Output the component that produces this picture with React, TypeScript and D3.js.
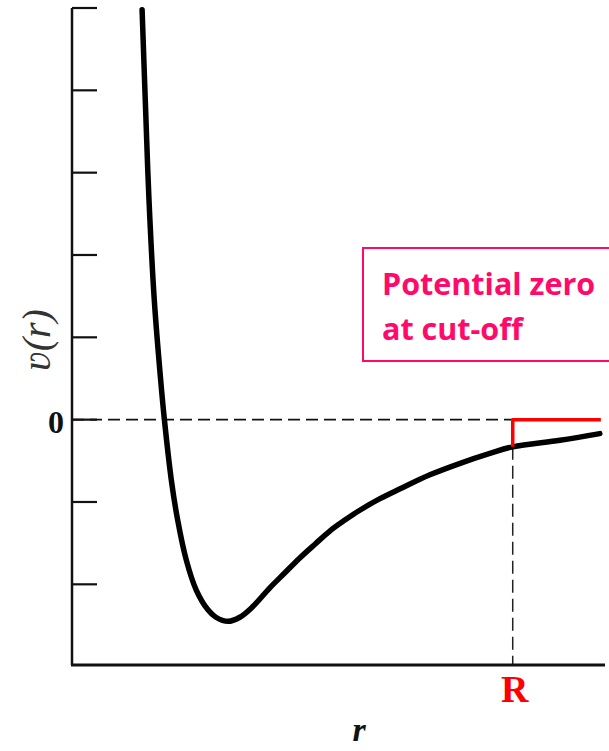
import React, { useEffect, useRef } from 'react';
import * as d3 from 'd3';

// potential curve
const curveR = [1.32, 1.38, 1.45, 1.55, 1.67, 1.74, 1.87, 1.99, 2.15, 2.34, 2.56, 2.71, 2.94, 3.16, 3.39, 3.73, 4.01, 4.29, 4.58, 4.86, 5.14, 5.42, 5.8, 6.18, 6.74, 7.31, 7.87, 8.3, 9.19, 9.94];
const curveV = [4.98, 3.88, 2.67, 1.45, 0.48, 0, -0.73, -1.22, -1.7, -2.07, -2.31, -2.4, -2.45, -2.4, -2.28, -2.04, -1.86, -1.68, -1.51, -1.35, -1.22, -1.1, -0.96, -0.84, -0.67, -0.53, -0.41, -0.33, -0.25, -0.17];

const yTicks = [-2, -1, 0, 1, 2, 3, 4, 5];
const xDomain = [0, 10];
const yDomain = [-2.98, 5];

const cutoffR = 8.3;
const cutoffV = -0.33;
const shiftedEndR = 9.96;

const boxLines = ['Potential zero', 'at cut-off'];

const W = 609;
const H = 751;

const App = () => {
  const ref = useRef<SVGSVGElement>(null);

  useEffect(() => {
    if (!ref.current) return;
    const svg = d3.select(ref.current);
    svg.selectAll('*').remove();

    const x = d3.scaleLinear().domain(xDomain).range([72, 603]);
    const y = d3.scaleLinear().domain(yDomain).range([665, 8]);

    svg.append('rect').attr('width', W).attr('height', H).attr('fill', '#fff');

    // dashed zero line and cut-off line
    svg.append('line')
      .attr('x1', x(0)).attr('x2', x(cutoffR))
      .attr('y1', y(0)).attr('y2', y(0))
      .attr('stroke', '#111').attr('stroke-width', 1.8)
      .attr('stroke-dasharray', '12,6');
    svg.append('line')
      .attr('x1', x(cutoffR)).attr('x2', x(cutoffR))
      .attr('y1', y(cutoffV)).attr('y2', y(yDomain[0]))
      .attr('stroke', '#222').attr('stroke-width', 1.5)
      .attr('stroke-dasharray', '13,6');

    // axes
    svg.append('line')
      .attr('x1', x(0)).attr('x2', x(0))
      .attr('y1', y(yDomain[1])).attr('y2', y(yDomain[0]))
      .attr('stroke', '#111').attr('stroke-width', 2.5);
    svg.append('line')
      .attr('x1', x(0) - 1).attr('x2', x(10) + 2)
      .attr('y1', y(yDomain[0])).attr('y2', y(yDomain[0]))
      .attr('stroke', '#111').attr('stroke-width', 3);
    svg.append('g')
      .selectAll('line')
      .data(yTicks)
      .enter()
      .append('line')
        .attr('x1', x(0)).attr('x2', x(0) + 25)
        .attr('y1', d => y(d)).attr('y2', d => y(d))
        .attr('stroke', '#111').attr('stroke-width', 2.2);

    // potential
    const pts = curveR.map((r, i) => [r, curveV[i]] as [number, number]);
    const line = d3.line<[number, number]>()
      .x(d => x(d[0]))
      .y(d => y(d[1]))
      .curve(d3.curveCatmullRom.alpha(0.5));
    svg.append('path')
      .attr('d', line(pts))
      .attr('fill', 'none')
      .attr('stroke', '#000')
      .attr('stroke-width', 5.5)
      .attr('stroke-linecap', 'round');

    // shifted potential in red
    const step: [number, number][] = [[cutoffR, cutoffV], [cutoffR, 0], [shiftedEndR, 0]];
    svg.append('path')
      .attr('d', d3.line<[number, number]>().x(d => x(d[0])).y(d => y(d[1]))(step))
      .attr('fill', 'none')
      .attr('stroke', '#ff0000')
      .attr('stroke-width', 3.5)
      .attr('stroke-linejoin', 'round');

    // labels
    svg.append('text')
      .attr('x', 64).attr('y', y(0) + 13)
      .attr('text-anchor', 'end')
      .style('font', 'bold 32px "Liberation Serif", serif')
      .attr('fill', '#111')
      .text('0');
    svg.append('text')
      .attr('x', x(cutoffR) + 2).attr('y', 702)
      .attr('text-anchor', 'middle')
      .style('font', 'bold 38px "Liberation Serif", serif')
      .attr('fill', '#ff0000')
      .text('R');
    svg.append('text')
      .attr('x', 359).attr('y', 741)
      .attr('text-anchor', 'middle')
      .style('font', 'italic bold 34px "Liberation Serif", serif')
      .attr('fill', '#111')
      .text('r');
    svg.append('text')
      .attr('transform', 'translate(50, 340) rotate(-90)')
      .attr('text-anchor', 'middle')
      .style('font', 'italic 40px "Liberation Serif", "DejaVu Serif", serif')
      .attr('fill', '#333')
      .text('ʋ(r)');

    // annotation box
    svg.append('rect')
      .attr('x', 363).attr('y', 248)
      .attr('width', 280).attr('height', 113)
      .attr('fill', 'none')
      .attr('stroke', '#ff0a6a')
      .attr('stroke-width', 2);
    svg.append('g')
      .selectAll('text')
      .data(boxLines)
      .enter()
      .append('text')
        .attr('x', 382)
        .attr('y', (d, i) => 295 + i * 45)
        .style('font', 'bold 30.5px "Open Sans", sans-serif')
        .attr('fill', '#ff0a6a')
        .text(d => d);
  }, []);

  return (
    <div style={{ position: 'absolute', left: 0, top: 0 }}>
      <svg ref={ref} width={W} height={H} style={{ display: 'block' }} />
    </div>
  );
};

export default App;
